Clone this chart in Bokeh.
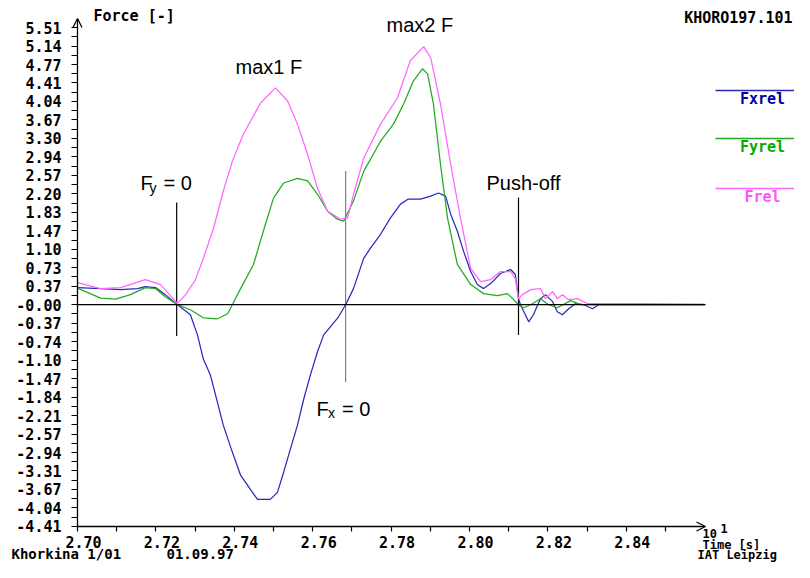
from bokeh.plotting import figure
from bokeh.models import FixedTicker, Label, Arrow, OpenHead, Range1d, LinearAxis
from bokeh.embed import file_html
from bokeh.resources import INLINE

# ---------------- data ----------------
t_fxrel = [2.7000, 2.7059, 2.7110, 2.7153, 2.7173, 2.7199, 2.7224, 2.7255, 2.7288, 2.7306,
           2.7321, 2.7339, 2.7357, 2.7372, 2.7395, 2.7416, 2.7441, 2.7459, 2.7492, 2.7510,
           2.7526, 2.7543, 2.7561, 2.7577, 2.7594, 2.7612, 2.7628, 2.7645, 2.7666, 2.7684,
           2.7704, 2.7730, 2.7747, 2.7773, 2.7798, 2.7824, 2.7844, 2.7875, 2.7901, 2.7921,
           2.7939, 2.7952, 2.7969, 2.7985, 2.8003, 2.8020, 2.8036, 2.8054, 2.8079, 2.8105,
           2.8117, 2.8125, 2.8130, 2.8135, 2.8151, 2.8163, 2.8181, 2.8194, 2.8212, 2.8224,
           2.8237, 2.8253, 2.8270, 2.8291, 2.8314, 2.8329, 2.8600]
fxrel = [0.34, 0.32, 0.30, 0.32, 0.36, 0.34, 0.20, 0.00, -0.20, -0.60,
         -1.08, -1.40, -1.94, -2.40, -2.93, -3.39, -3.67, -3.87, -3.87, -3.73,
         -3.33, -2.87, -2.40, -1.88, -1.40, -0.94, -0.60, -0.44, -0.24, 0.00,
         0.32, 0.92, 1.12, 1.40, 1.72, 2.00, 2.10, 2.10, 2.16, 2.22,
         2.16, 1.80, 1.46, 1.06, 0.66, 0.40, 0.32, 0.42, 0.62, 0.70,
         0.60, 0.12, 0.00, -0.08, -0.34, -0.20, 0.12, 0.20, 0.06, -0.14,
         -0.20, -0.08, 0.02, 0.00, -0.08, 0.00, 0.00]

t_fyrel = [2.7000, 2.7059, 2.7097, 2.7135, 2.7173, 2.7199, 2.7224, 2.7255, 2.7288, 2.7321,
           2.7357, 2.7383, 2.7395, 2.7416, 2.7449, 2.7474, 2.7500, 2.7526, 2.7561, 2.7587,
           2.7612, 2.7638, 2.7663, 2.7679, 2.7704, 2.7730, 2.7773, 2.7806, 2.7832, 2.7857,
           2.7880, 2.7893, 2.7908, 2.7926, 2.7944, 2.7969, 2.8003, 2.8036, 2.8071, 2.8097,
           2.8110, 2.8125, 2.8138, 2.8156, 2.8181, 2.8202, 2.8224, 2.8258, 2.8283, 2.8600]
fyrel = [0.33, 0.13, 0.11, 0.20, 0.34, 0.32, 0.16, 0.00, -0.10, -0.26,
         -0.28, -0.18, 0.00, 0.32, 0.80, 1.46, 2.12, 2.42, 2.51, 2.46,
         2.20, 1.86, 1.70, 1.66, 2.06, 2.65, 3.25, 3.59, 3.99, 4.45,
         4.69, 4.59, 3.99, 2.79, 1.72, 0.80, 0.40, 0.22, 0.18, 0.22,
         0.12, 0.00, -0.06, 0.00, 0.12, 0.00, -0.06, 0.08, 0.00, 0.00]

t_frel = [2.7000, 2.7059, 2.7110, 2.7173, 2.7212, 2.7255, 2.7276, 2.7301, 2.7321, 2.7347,
          2.7372, 2.7395, 2.7423, 2.7467, 2.7505, 2.7536, 2.7561, 2.7587, 2.7612, 2.7638,
          2.7671, 2.7689, 2.7704, 2.7730, 2.7773, 2.7816, 2.7849, 2.7883, 2.7901, 2.7926,
          2.7952, 2.7977, 2.8003, 2.8028, 2.8054, 2.8079, 2.8105, 2.8117, 2.8125, 2.8135,
          2.8156, 2.8181, 2.8194, 2.8212, 2.8224, 2.8237, 2.8253, 2.8276, 2.8301, 2.8334,
          2.8450, 2.8600]
frel = [0.44, 0.32, 0.34, 0.50, 0.40, 0.02, 0.20, 0.50, 0.92, 1.52,
        2.26, 2.85, 3.39, 4.01, 4.31, 4.05, 3.59, 2.99, 2.32, 1.86,
        1.70, 1.72, 2.19, 2.91, 3.59, 4.11, 4.85, 5.13, 4.91, 3.99,
        2.79, 1.72, 0.72, 0.46, 0.50, 0.66, 0.66, 0.52, 0.12, 0.20,
        0.30, 0.32, 0.12, 0.26, 0.12, 0.20, 0.10, 0.12, 0.02, 0.02,
        0.02, 0.01]

# event markers: Fy = 0, Fx = 0, Push-off
event_t = [2.7253, 2.7684, 2.8125]
event_top = [2.03, 2.66, 2.13]
event_bottom = [-0.62, -1.54, -0.60]
event_colors = ["#000000", "#808080", "#000000"]

y_tick_labels = ["5.51", "5.14", "4.77", "4.41", "4.04", "3.67", "3.30", "2.94", "2.57", "2.20",
                 "1.83", "1.47", "1.10", "0.73", "0.37", "-0.00", "-0.37", "-0.74", "-1.10", "-1.47",
                 "-1.84", "-2.21", "-2.57", "-2.94", "-3.31", "-3.67", "-4.04", "-4.41"]
y_step = 5.51 / 15
x_tick_values = [2.70, 2.72, 2.74, 2.76, 2.78, 2.80, 2.82, 2.84]
x_tick_labels = ["2.70", "2.72", "2.74", "2.76", "2.78", "2.80", "2.82", "2.84"]
x_minor_values = [2.71, 2.73, 2.75, 2.77, 2.79, 2.81, 2.83, 2.85]

series_names = ["Fxrel", "Fyrel", "Frel"]
line_colors = ["#2a2ab8", "#22aa22", "#ff66ff"]
legend_text_colors = ["#0000aa", "#00aa00", "#ff55ff"]

# ---------------- geometry ----------------
X0, X1 = 2.70, 2.8602      # axis extent (time)
Y0, Y1 = -4.41, 5.69       # axis extent (force)
PX_PER_X = 3920.0
PX_PER_Y = 50.3

def xd(px):  # canvas pixel -> data x
    return X0 + (px - 77) / PX_PER_X

def yd(py):  # canvas pixel -> data y
    return (304.2 - py) / PX_PER_Y

W, H = 794, 562
p = figure(width=W, height=H,
           x_range=Range1d(xd(0), xd(W)), y_range=Range1d(yd(H), yd(0)),
           output_backend="svg", toolbar_location=None, min_border=0)
p.grid.visible = False
p.outline_line_color = None
p.background_fill_color = "white"
p.border_fill_color = "white"

MONO = "DejaVu Sans Mono"
MONO_SIZE = "15px"

# y axis (drawn at x = 2.70)
n_top = 15
y_ticks = [(n_top - i) * y_step for i in range(len(y_tick_labels))]
y_minor = [(n_top - i - 0.5) * y_step for i in range(len(y_tick_labels) - 1)]
p.yaxis.ticker = FixedTicker(ticks=y_ticks, minor_ticks=y_minor)
p.yaxis.major_label_overrides = {v: s for v, s in zip(y_ticks, y_tick_labels)}
p.yaxis.fixed_location = X0
p.yaxis.major_tick_out = 6
p.yaxis.minor_tick_out = 6
p.yaxis.major_label_standoff = 10

# x axis ticks (drawn at y = -4.41); labels on a slightly shifted companion axis
p.xaxis.ticker = FixedTicker(ticks=x_tick_values, minor_ticks=x_minor_values)
p.xaxis.major_label_overrides = {v: "" for v in x_tick_values}
p.xaxis.fixed_location = Y0
p.xaxis.major_tick_out = 5
p.xaxis.minor_tick_out = 5

shift = 6.0 / PX_PER_X
p.extra_x_ranges = {"xlab": Range1d(xd(0) - shift, xd(W) - shift)}
xlab = LinearAxis(x_range_name="xlab", ticker=FixedTicker(ticks=x_tick_values, minor_ticks=[]),
                  fixed_location=Y0, major_tick_out=5, major_tick_line_color=None,
                  minor_tick_line_color=None, axis_line_color=None, major_label_standoff=4)
xlab.major_label_overrides = {v: s for v, s in zip(x_tick_values, x_tick_labels)}
p.add_layout(xlab, "below")

for ax in (p.xaxis[0], p.yaxis[0], xlab):
    ax.axis_line_color = None
    ax.major_tick_in = 0
    ax.minor_tick_in = 0
    ax.major_label_text_font = MONO
    ax.major_label_text_font_style = "bold"
    ax.major_label_text_font_size = MONO_SIZE
    ax.major_label_text_color = "black"
for ax in (p.xaxis[0], p.yaxis[0]):
    ax.major_tick_line_color = "black"
    ax.minor_tick_line_color = "black"
    ax.major_tick_line_width = 1.2
    ax.minor_tick_line_width = 1.2

# axis lines with arrow heads
p.add_layout(Arrow(end=OpenHead(size=9, line_color="black", line_width=1.3),
                   x_start=X0, y_start=Y0, x_end=X1, y_end=Y0, line_color="black", line_width=1.3))
p.add_layout(Arrow(end=OpenHead(size=9, line_color="black", line_width=1.3),
                   x_start=X0, y_start=Y0, x_end=X0, y_end=Y1, line_color="black", line_width=1.3))
# zero line
p.add_layout(Arrow(end=None, x_start=X0, y_start=0, x_end=X1, y_end=0,
                   line_color="black", line_width=1.3))

# event lines
p.segment(x0=event_t, y0=event_bottom, x1=event_t, y1=event_top, line_color=event_colors, line_width=1.2)

# curves
p.line(t_fxrel, fxrel, line_color=line_colors[0], line_width=1.25)
p.line(t_fyrel, fyrel, line_color=line_colors[1], line_width=1.25)
p.line(t_frel, frel, line_color=line_colors[2], line_width=1.25)

# legend (line above name, right margin)
legend_y = [90, 138, 188]
for name, lc, tc, ly in zip(series_names, line_colors, legend_text_colors, legend_y):
    p.add_layout(Arrow(end=None, x_start=xd(715), y_start=yd(ly), x_end=xd(W), y_end=yd(ly),
                       line_color=lc, line_width=1.5))
    p.add_layout(Label(x=xd(762), y=yd(ly + 8.5), text=name, text_font=MONO, text_font_style="bold",
                       text_font_size=MONO_SIZE, text_color=tc, text_align="center", text_baseline="middle"))

# mono texts around the chart
def mono(text, px, py, align="left", size=MONO_SIZE):
    p.add_layout(Label(x=xd(px), y=yd(py), text=text, text_font=MONO, text_font_style="bold",
                       text_font_size=size, text_color="black", text_align=align, text_baseline="middle"))

mono("Force [-]", 93, 15.5)
mono("KHORO197.101", 792, 17.5, align="right")
mono("10", 702, 533, size="12px")
mono("1", 720, 528, size="12px")
mono("Time [s]", 702, 544, size="12px")
mono("IAT Leipzig", 697, 554, size="12px")
mono("Khorkina 1/01", 11, 553, size="14px")
mono("01.09.97", 166, 553, size="14px")

# annotations in the chart
SANS = "Liberation Sans"
def sans(text, px, py, size="20px"):
    p.add_layout(Label(x=xd(px), y=yd(py), text=text, text_font=SANS, text_font_size=size,
                       text_color="black", text_align="left", text_baseline="alphabetic"))

sans("max1 F", 235, 66)
sans("max2 F", 386, 24)
sans("Push-off", 486, 182)
sans("F", 140, 182.5)
sans("y", 149, 187, size="14px")
sans("= 0", 163, 182.5)
sans("F", 316, 408)
sans("x", 327.5, 412, size="14px")
sans("= 0", 341.5, 408)

open("out.html", "w").write(file_html(p, INLINE))
